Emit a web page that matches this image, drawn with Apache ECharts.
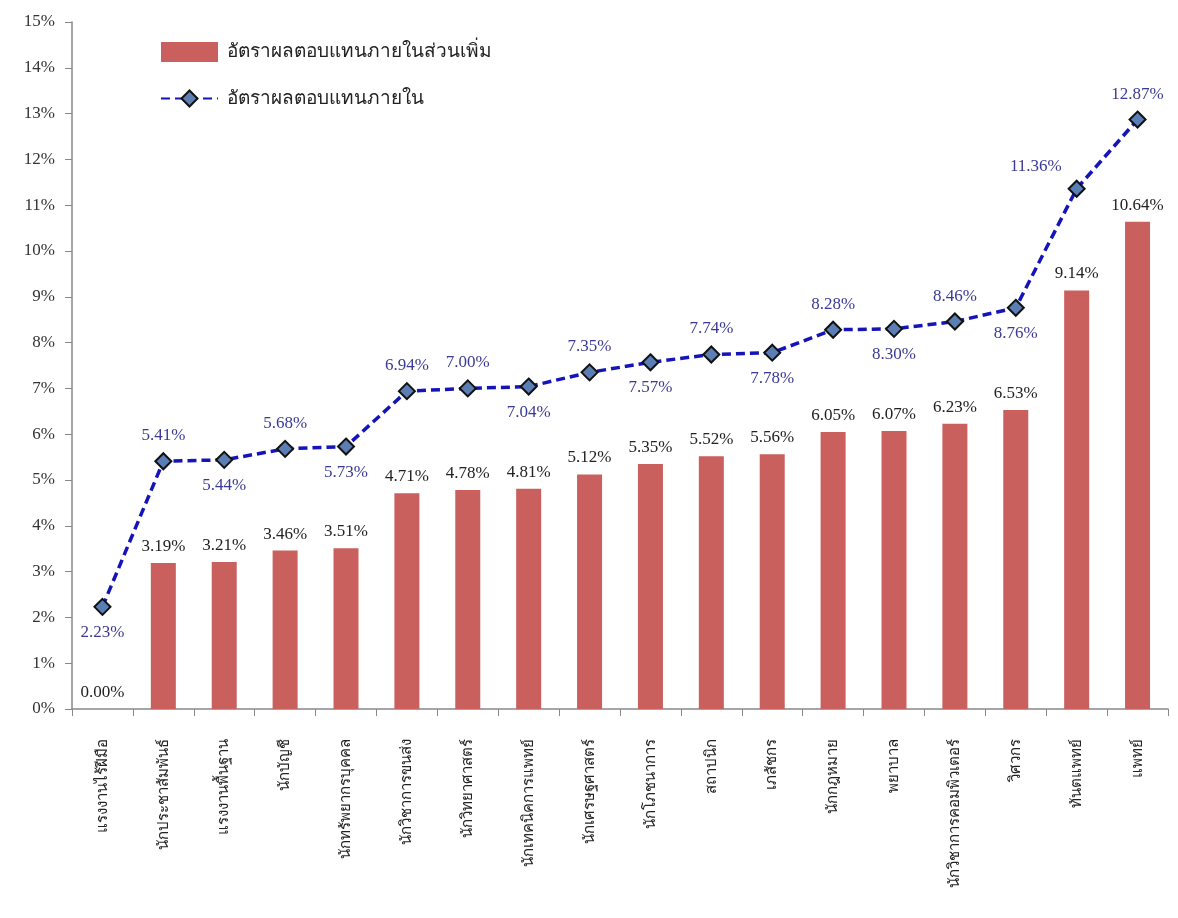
<!DOCTYPE html>
<html><head><meta charset="utf-8">
<script src="https://cdn.jsdelivr.net/npm/echarts@6/dist/echarts.min.js"></script>
<style>html,body{margin:0;padding:0;background:#fff}#c{width:1178px;height:918px}</style>
</head><body><div id="c"></div>
<script>
const categories = ['แรงงานไร้ฝีมือ','นักประชาสัมพันธ์','แรงงานพื้นฐาน','นักบัญชี','นักทรัพยากรบุคคล','นักวิชาการขนส่ง','นักวิทยาศาสตร์','นักเทคนิคการแพทย์','นักเศรษฐศาสตร์','นักโภชนาการ','สถาปนิก','เภสัชกร','นักกฎหมาย','พยาบาล','นักวิชาการคอมพิวเตอร์','วิศวกร','ทันตแพทย์','แพทย์'];
const extraRate = [0.00,3.19,3.21,3.46,3.51,4.71,4.78,4.81,5.12,5.35,5.52,5.56,6.05,6.07,6.23,6.53,9.14,10.64];
const totalRate = [2.23,5.41,5.44,5.68,5.73,6.94,7.00,7.04,7.35,7.57,7.74,7.78,8.28,8.30,8.46,8.76,11.36,12.87];
const yTicks = [0,1,2,3,4,5,6,7,8,9,10,11,12,13,14,15];
const seriesNames = ['อัตราผลตอบแทนภายในส่วนเพิ่ม','อัตราผลตอบแทนภายใน'];
// label placement for line points (layout only)
const lineLabelPos = ['bottom','top','bottom','top','bottom','top','top','bottom','top','bottom','top','bottom','top','bottom','top','bottom','left','top'];

const serif = '"Liberation Serif","DejaVu Serif",serif';
const thai = '"Noto Sans","DejaVu Sans",sans-serif';
const chart = echarts.init(document.getElementById('c'));
chart.setOption({
  animation:false,
  backgroundColor:'#fff',
  grid:{left:72,right:10,top:22,bottom:209},
  legend:{
    orient:'vertical',left:155,top:37,itemGap:27,
    itemWidth:57,itemHeight:20,
    textStyle:{fontFamily:thai,fontSize:19,color:'#222',padding:[0,0,0,4]},
    data:[{name:seriesNames[0],icon:'rect'},{name:seriesNames[1]}]
  },
  xAxis:{
    type:'category',data:categories,
    axisLine:{lineStyle:{color:'#888',width:1.5}},
    axisTick:{show:true,length:7,lineStyle:{color:'#888'}},
    axisLabel:{rotate:90,margin:30,interval:0,fontFamily:thai,fontSize:15,color:'#222'}
  },
  yAxis:{
    type:'value',min:0,max:15,interval:1,
    splitLine:{show:false},
    axisLine:{show:true,lineStyle:{color:'#888',width:1.5}},
    axisTick:{show:true,length:7,lineStyle:{color:'#888'}},
    axisLabel:{formatter:v=>v+'%',fontFamily:serif,fontSize:17,color:'#333',margin:17}
  },
  series:[
    {
      name:seriesNames[0],type:'bar',barWidth:25,
      data:extraRate,
      itemStyle:{color:'#c9605d'},
      label:{show:true,position:'top',distance:8,formatter:p=>p.value.toFixed(2)+'%',fontFamily:serif,fontSize:17,color:'#222'}
    },
    {
      name:seriesNames[1],type:'line',
      data:totalRate.map((v,i)=>({value:v,label:{position:lineLabelPos[i],offset:lineLabelPos[i]==='left'?[2,-22]:[0,0]}})),
      symbol:'diamond',symbolSize:16,
      lineStyle:{color:'#1414b8',width:3.5,type:[9,5]},
      itemStyle:{color:'#5b7fb5',borderColor:'#111',borderWidth:2},
      label:{show:true,distance:8,formatter:p=>p.value.toFixed(2)+'%',fontFamily:serif,fontSize:17,color:'#3a3a96'},
      z:5
    }
  ]
});
</script></body></html>
